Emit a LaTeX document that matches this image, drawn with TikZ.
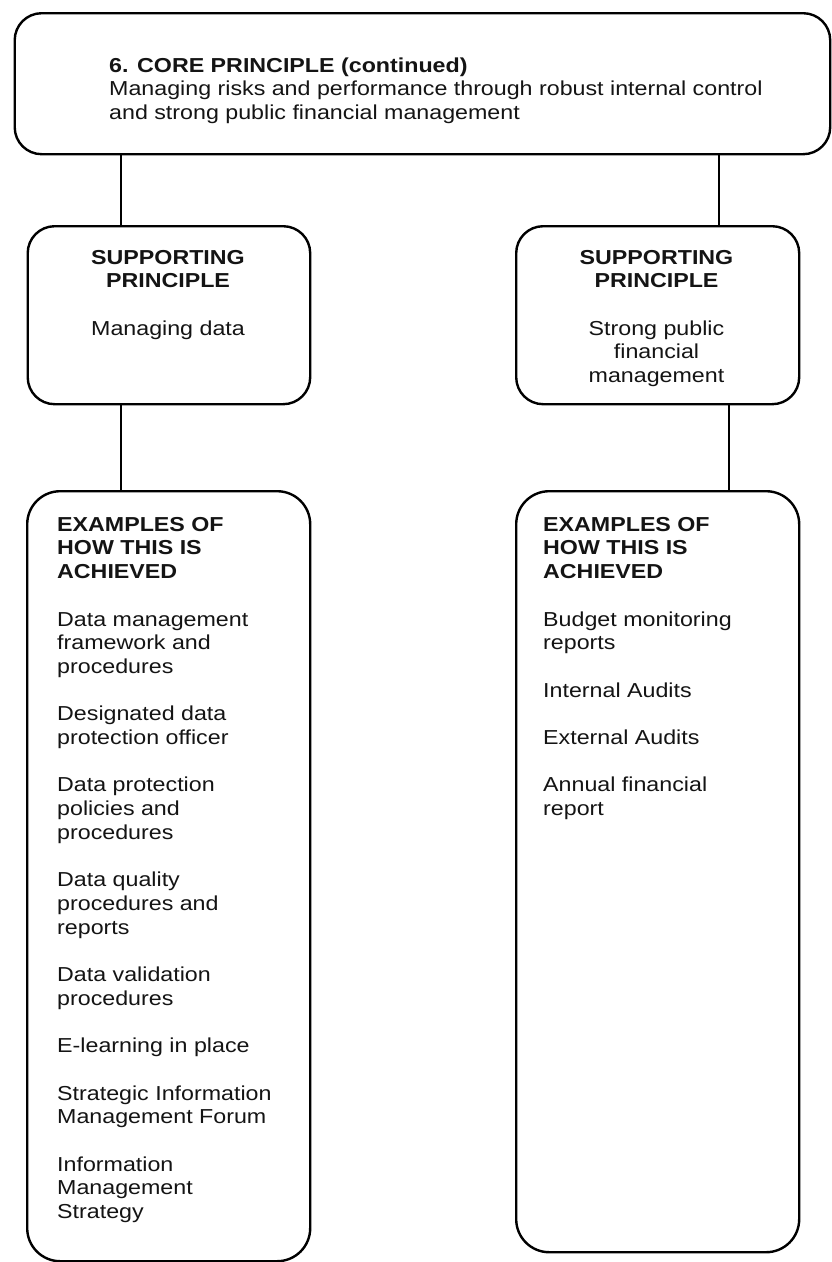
\documentclass[tikz,border=0pt]{standalone}
\usepackage{fontspec}
\setmainfont{Liberation Sans}[FakeStretch=1.15]
\begin{document}
\begin{tikzpicture}[x=1pt,y=-1pt,
  box/.style={draw=black,line width=2.4pt,fill=white,anchor=north west,inner sep=0pt},
  smallbox/.style={box,rounded corners=27pt},
  bigbox/.style={box,rounded corners=33pt},
  conn/.style={draw=black,line width=1.2pt},
  txt/.style={inner sep=0pt,font=\fontsize{20.2}{23.7}\selectfont,text=black!92}]
\useasboundingbox (0,0) rectangle (832,1262);
% boxes
\node[smallbox,minimum width=815.5pt,minimum height=141pt] (top) at (13.5,12) {};
\node[smallbox,minimum width=282.5pt,minimum height=178pt] (sp1) at (26.5,225) {};
\node[smallbox,minimum width=283pt,minimum height=178pt] (sp2) at (515,225) {};
\node[bigbox,minimum width=283pt,minimum height=770pt] (ex1) at (26,490) {};
\node[bigbox,minimum width=283pt,minimum height=761pt] (ex2) at (515,490) {};
% connector columns
\coordinate (c1) at (121,0);
\coordinate (c2) at (719,0);
\coordinate (c3) at (121,0);
\coordinate (c4) at (729,0);
\draw[conn] (top.south -| c1) -- (sp1.north -| c1);
\draw[conn] (top.south -| c2) -- (sp2.north -| c2);
\draw[conn] (sp1.south -| c3) -- (ex1.north -| c3);
\draw[conn] (sp2.south -| c4) -- (ex2.north -| c4);
% texts (first baseline = y + 16.6)
\node[txt,anchor=north west,align=left] (toptext) at (109,55.4)
  {\strut\textbf{6. CORE PRINCIPLE (continued)}\\
   Managing risks and performance through robust internal control\\
   and strong public financial management};
\node[txt,anchor=north,align=center] (sp1text) at (168,247.4)
  {\strut\textbf{SUPPORTING}\\\textbf{PRINCIPLE}\\[23.7pt]
   Managing data};
\node[txt,anchor=north,align=center] (sp2text) at (656.5,247.4)
  {\strut\textbf{SUPPORTING}\\\textbf{PRINCIPLE}\\[23.7pt]
   Strong public\\financial\\management};
\node[txt,anchor=north west,align=left] (ex1text) at (57,514.4)
  {\strut\textbf{EXAMPLES OF}\\\textbf{HOW THIS IS}\\\textbf{ACHIEVED}\\[23.7pt]
   Data management\\framework and\\procedures\\[23.7pt]
   Designated data\\protection officer\\[23.7pt]
   Data protection\\policies and\\procedures\\[23.7pt]
   Data quality\\procedures and\\reports\\[23.7pt]
   Data validation\\procedures\\[23.7pt]
   E-learning in place\\[23.7pt]
   Strategic Information\\Management Forum\\[23.7pt]
   Information\\Management\\Strategy};
\node[txt,anchor=north west,align=left] (ex2text) at (543,514.4)
  {\strut\textbf{EXAMPLES OF}\\\textbf{HOW THIS IS}\\\textbf{ACHIEVED}\\[23.7pt]
   Budget monitoring\\reports\\[23.7pt]
   Internal Audits\\[23.7pt]
   External Audits\\[23.7pt]
   Annual financial\\report};
\end{tikzpicture}
\end{document}
